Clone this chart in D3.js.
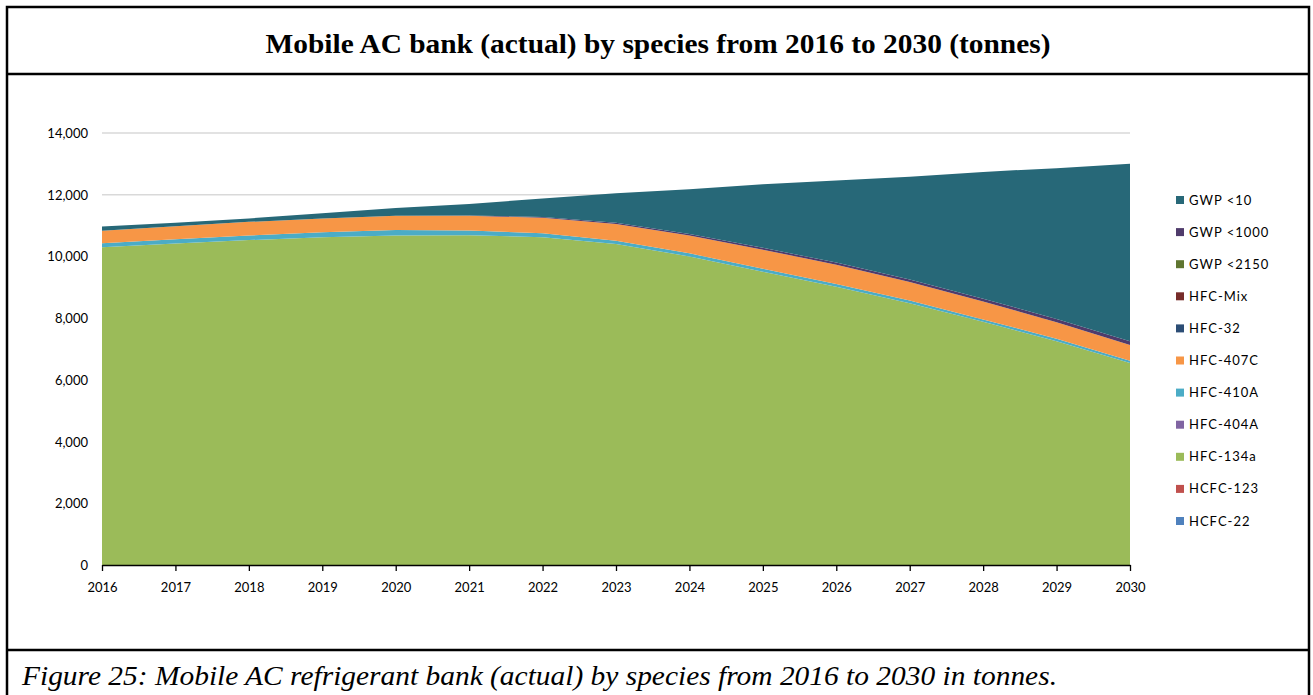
<!DOCTYPE html>
<html>
<head>
<meta charset="utf-8">
<script src="https://cdnjs.cloudflare.com/ajax/libs/d3/7.8.5/d3.min.js"></script>
<style>
	body { margin: 0; background: #fff; }
	svg { display: block; }
</style>
</head>
<body>
<div id="viz-container"></div>
<script>
var years = [2016, 2017, 2018, 2019, 2020, 2021, 2022, 2023, 2024, 2025, 2026, 2027, 2028, 2029, 2030];

// tonnes
var hcfc22   = [0, 0, 0, 0, 0, 0, 0, 0, 0, 0, 0, 0, 0, 0, 0];
var hcfc123  = [0, 0, 0, 0, 0, 0, 0, 0, 0, 0, 0, 0, 0, 0, 0];
var hfc134a  = [10300, 10420, 10530, 10620, 10680, 10690, 10620, 10400, 10000, 9500, 9020, 8480, 7880, 7250, 6550];
var hfc404a  = [0, 0, 0, 0, 0, 0, 0, 0, 0, 0, 0, 0, 0, 0, 0];
var hfc410a  = [130, 140, 150, 160, 180, 150, 130, 110, 100, 100, 90, 90, 80, 80, 70];
var hfc407c  = [400, 420, 440, 450, 460, 480, 500, 540, 580, 620, 620, 600, 580, 540, 510];
var hfc32    = [0, 0, 0, 0, 0, 0, 0, 0, 0, 0, 0, 0, 0, 0, 0];
var hfcMix   = [0, 0, 0, 0, 0, 0, 0, 0, 0, 0, 0, 0, 0, 0, 0];
var gwp2150  = [0, 0, 0, 0, 0, 0, 0, 0, 0, 0, 0, 0, 0, 0, 0];
var gwp1000  = [0, 0, 0, 0, 0, 10, 30, 40, 50, 60, 70, 80, 90, 100, 120];
var gwp10    = [140, 110, 110, 170, 250, 370, 600, 960, 1450, 2060, 2660, 3330, 4110, 4890, 5750];

var seriesNames = ['HCFC-22', 'HCFC-123', 'HFC-134a', 'HFC-404A', 'HFC-410A', 'HFC-407C', 'HFC-32', 'HFC-Mix', 'GWP <2150', 'GWP <1000', 'GWP <10'];
var seriesValues = [hcfc22, hcfc123, hfc134a, hfc404a, hfc410a, hfc407c, hfc32, hfcMix, gwp2150, gwp1000, gwp10];
var seriesColors = ['#4f81bd', '#c0504d', '#9bbb59', '#8064a2', '#4bacc6', '#f79646', '#2c4d75', '#772c2a', '#5f7530', '#4f3b6b', '#276878'];
var yTicks = [0, 2000, 4000, 6000, 8000, 10000, 12000, 14000];

var titleText = 'Mobile AC bank (actual) by species from 2016 to 2030 (tonnes)';
var captionText = 'Figure 25: Mobile AC refrigerant bank (actual) by species from 2016 to 2030 in tonnes.';

draw();

function draw () {
	var W = 1313, H = 695,
		left = 102, right = 1130,
		top = 133, bottom = 565;

	var svg = d3.select('#viz-container')
		.append('svg')
		.attr('width', W)
		.attr('height', H);

	// frame
	svg.append('rect')
		.attr('x', 7).attr('y', 7)
		.attr('width', 1302).attr('height', 700)
		.attr('fill', 'none').attr('stroke', '#000').attr('stroke-width', 2.5);
	svg.append('line')
		.attr('x1', 7).attr('x2', 1309).attr('y1', 74).attr('y2', 74)
		.attr('stroke', '#000').attr('stroke-width', 2.5);
	svg.append('line')
		.attr('x1', 7).attr('x2', 1309).attr('y1', 650).attr('y2', 650)
		.attr('stroke', '#000').attr('stroke-width', 2.5);

	svg.append('text')
		.attr('x', 658).attr('y', 53)
		.attr('text-anchor', 'middle')
		.attr('textLength', 785)
		.attr('lengthAdjust', 'spacingAndGlyphs')
		.style('font-family', '"Liberation Serif", "Times New Roman", serif')
		.style('font-weight', 'bold')
		.style('font-size', '27px')
		.text(titleText);

	svg.append('text')
		.attr('x', 22).attr('y', 685)
		.attr('textLength', 1035)
		.attr('lengthAdjust', 'spacingAndGlyphs')
		.style('font-family', '"Liberation Serif", "Times New Roman", serif')
		.style('font-style', 'italic')
		.style('font-size', '27px')
		.text(captionText);

	var x = d3.scaleLinear().domain([2016, 2030]).range([left, right]);
	var y = d3.scaleLinear().domain([0, 14000]).range([bottom, top]);

	// gridlines
	svg.append('g')
		.selectAll('line')
		.data(yTicks.slice(1))
		.enter()
		.append('line')
		.attr('x1', left).attr('x2', right)
		.attr('y1', function (d) { return y(d); })
		.attr('y2', function (d) { return y(d); })
		.attr('stroke', '#d9d9d9')
		.attr('stroke-width', 1.5);

	var table = years.map(function (yr, i) {
		var row = {year: yr};
		seriesNames.forEach(function (n, j) { row[n] = seriesValues[j][i]; });
		return row;
	});

	var layers = d3.stack().keys(seriesNames)(table);

	var area = d3.area()
		.x(function (d) { return x(d.data.year); })
		.y0(function (d) { return y(d[0]); })
		.y1(function (d) { return y(d[1]); });

	svg.append('g')
		.selectAll('path')
		.data(layers)
		.enter()
		.append('path')
		.attr('d', area)
		.attr('fill', function (d, i) { return seriesColors[i]; });

	// y axis labels only
	var yAxis = svg.append('g')
		.attr('transform', 'translate(' + (left - 14) + ',0)')
		.call(d3.axisLeft(y).tickValues(yTicks).tickFormat(d3.format(',')).tickSize(0));
	yAxis.select('.domain').remove();
	yAxis.selectAll('text')
		.attr('x', 0)
		.attr('dy', '0.35em')
		.style('font-family', 'Lato, "Open Sans", sans-serif')
		.style('font-size', '13px')
		.attr('fill', '#000');

	var xAxis = svg.append('g')
		.attr('transform', 'translate(0,' + bottom + ')')
		.call(d3.axisBottom(x).tickValues(years).tickFormat(d3.format('d')).tickSize(6).tickSizeOuter(0));
	xAxis.select('.domain').attr('stroke', '#000').attr('stroke-width', 1.5);
	xAxis.selectAll('line').attr('stroke', '#000').attr('stroke-width', 1.3);
	xAxis.selectAll('text')
		.attr('y', 18)
		.style('font-family', 'Lato, "Open Sans", sans-serif')
		.style('font-size', '13px')
		.attr('fill', '#000');

	// legend, top entry is the top layer
	var legendNames = seriesNames.slice().reverse(),
		legendColors = seriesColors.slice().reverse();
	var legend = svg.append('g')
		.selectAll('g')
		.data(legendNames)
		.enter()
		.append('g')
		.attr('transform', function (d, i) { return 'translate(1176,' + (200 + i * 32.1) + ')'; });
	legend.append('rect')
		.attr('x', 0).attr('y', -4)
		.attr('width', 8).attr('height', 8)
		.attr('fill', function (d, i) { return legendColors[i]; });
	legend.append('text')
		.attr('x', 13).attr('dy', '0.35em')
		.style('font-family', 'Lato, "Open Sans", sans-serif')
		.style('font-size', '13px')
		.style('letter-spacing', '1px')
		.text(function (d) { return d; });
}
</script>
</body>
</html>
